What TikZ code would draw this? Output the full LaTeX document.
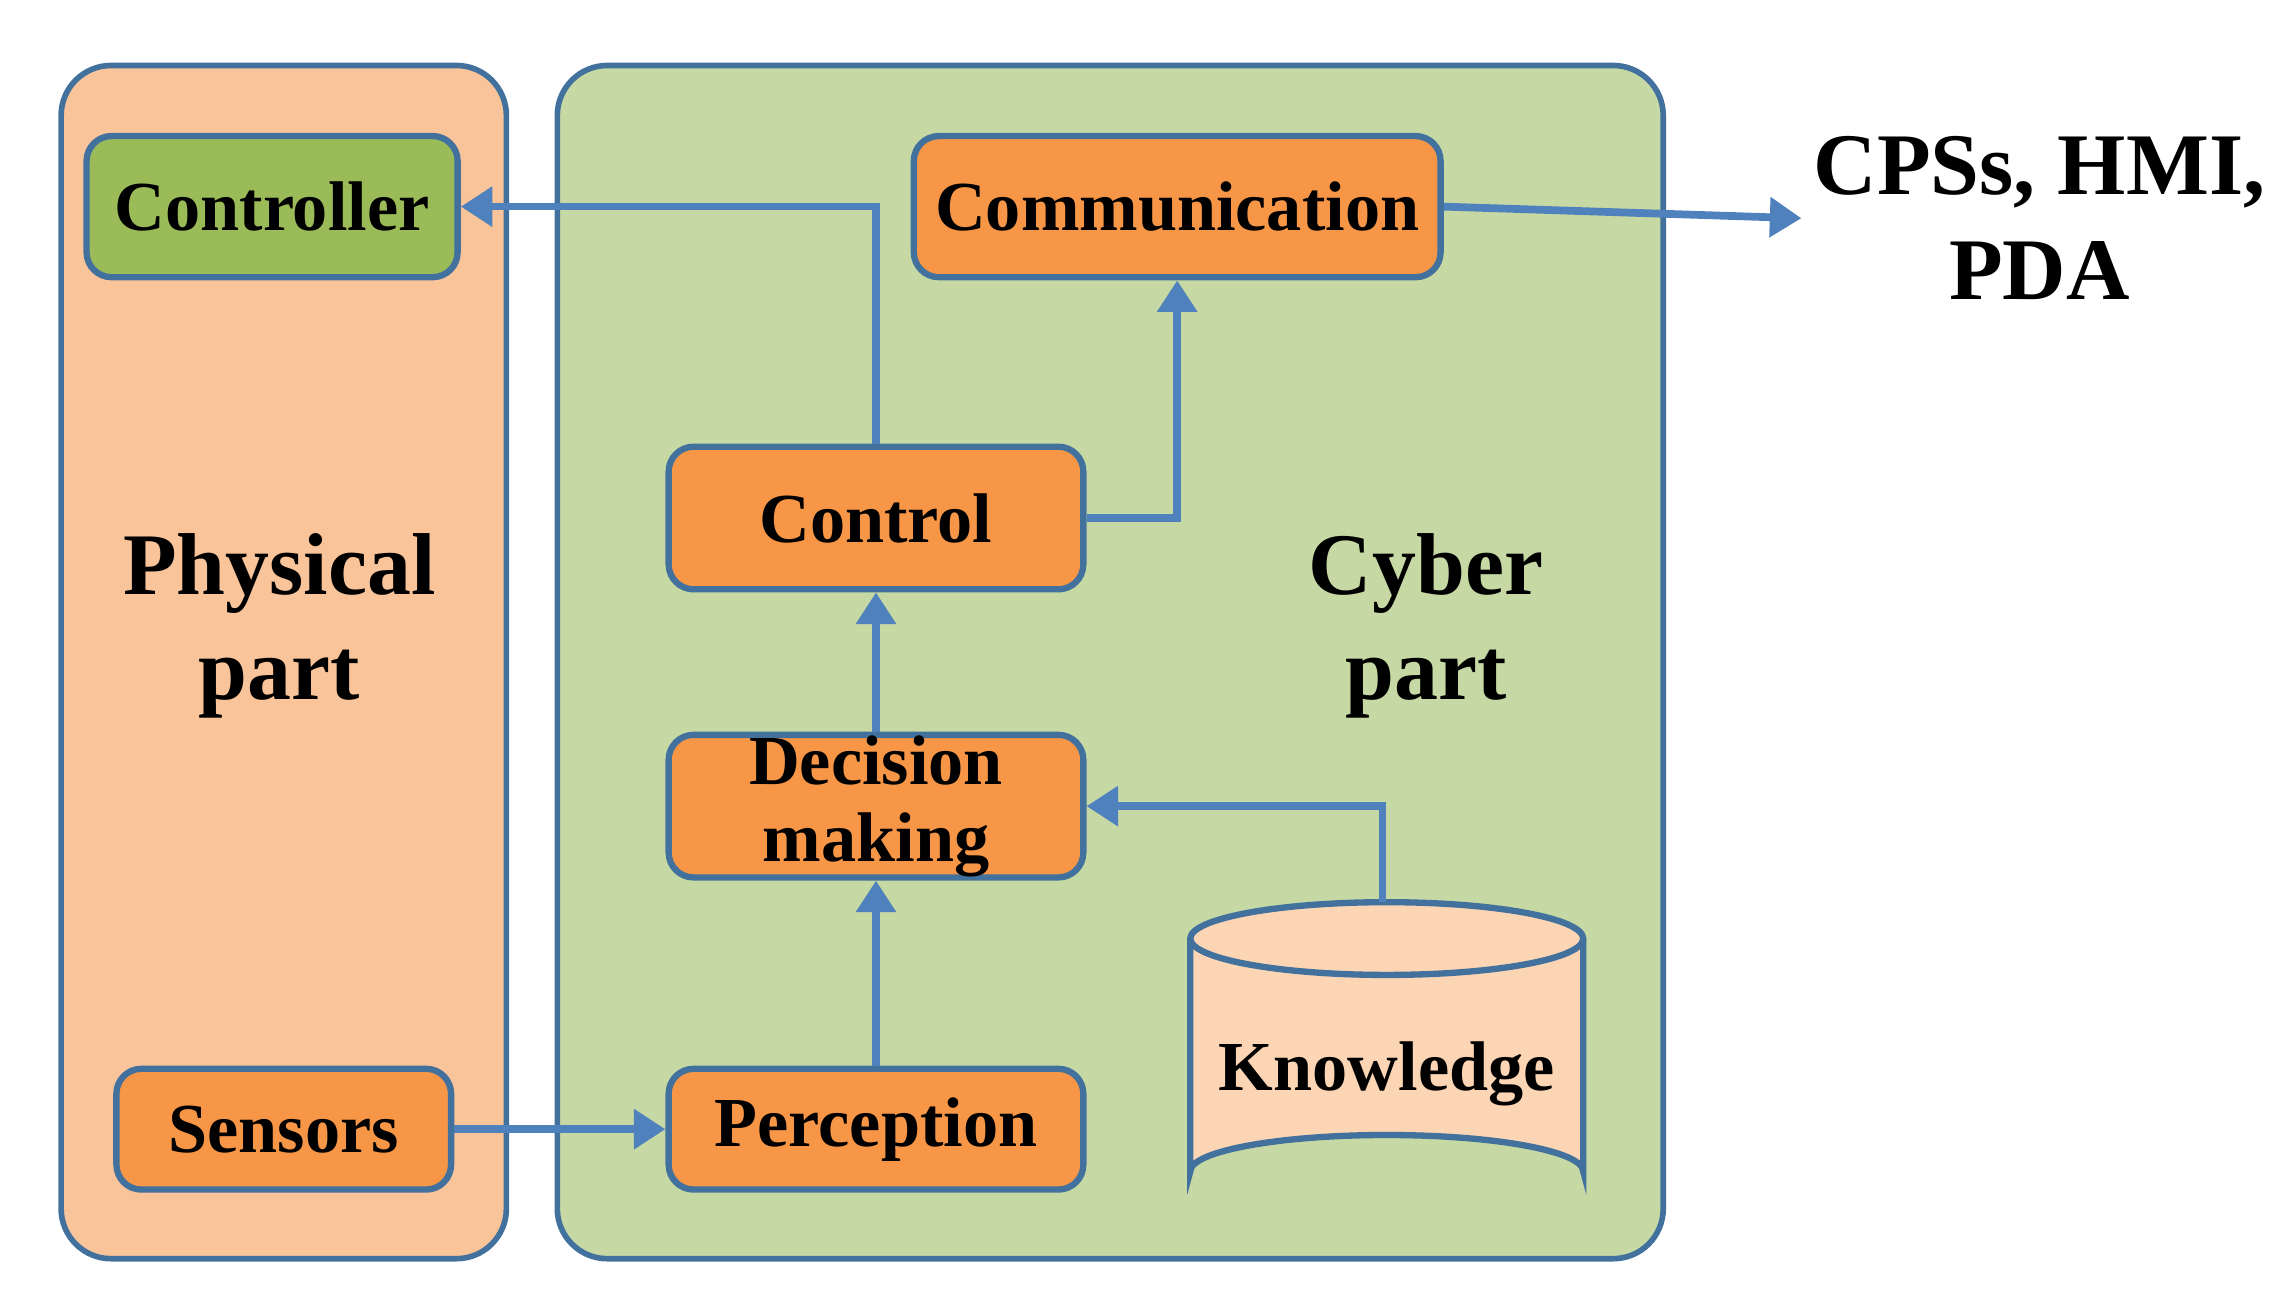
\documentclass[tikz,border=0pt]{standalone}
\usepackage{fontspec}
\setmainfont{Liberation Serif}
\usetikzlibrary{arrows.meta}
\definecolor{bord}{HTML}{41719C}
\definecolor{arr}{HTML}{4F81BD}
\definecolor{peach}{HTML}{F9C49A}
\definecolor{cyb}{HTML}{C6D9A4}
\definecolor{orng}{HTML}{F79646}
\definecolor{grn}{HTML}{9BBB59}
\definecolor{kn}{HTML}{FCD5B5}
\begin{document}
\begin{tikzpicture}[x=0.01455cm,y=-0.01455cm,
 panel/.style={draw=bord,line width=1.6pt,rounded corners=0.5cm},
 box/.style={draw=bord,line width=1.8pt,rounded corners=0.25cm,fill=orng,font=\fontsize{20}{22}\selectfont\bfseries,align=center,inner sep=0pt},
 big/.style={font=\fontsize{25}{30}\selectfont\bfseries,align=center},
 ar/.style={draw=arr,line width=2.2pt,-{Triangle[length=9pt,width=11pt]}}]
\useasboundingbox (0,0) rectangle (1560,886);
\draw[panel,fill=peach] (42,45) rectangle (348,865);
\draw[panel,fill=cyb] (383,45) rectangle (1143,865);
\node[box,fill=grn,minimum width=255*0.01455cm,minimum height=97*0.01455cm] (ctrl) at (187,142) {Controller};
\node[box,minimum width=362*0.01455cm,minimum height=97*0.01455cm] (comm) at (809,142) {Communication};
\node[box,minimum width=285*0.01455cm,minimum height=98*0.01455cm] (control) at (602,356) {Control};
\node[box,minimum width=285*0.01455cm,minimum height=98*0.01455cm] (dec) at (602,554) {Decision\\making};
\node[box,minimum width=285*0.01455cm,minimum height=83*0.01455cm] (perc) at (602,776) {Perception};
\node[box,minimum width=230*0.01455cm,minimum height=83*0.01455cm] (sens) at (195,776) {Sensors};
\node[big] (phys) at (192,430) {Physical\\part};
\node[big] (cyber) at (980,430) {Cyber\\part};
\node[big,anchor=west] (cps) at (1238,150) {CPSs, HMI,\\PDA};
% cylinder
\draw[draw=bord,line width=1.8pt,fill=kn] (818,645) -- (818,805) arc[start angle=180,end angle=360,x radius=135,y radius=25] -- (1088,645);
\draw[draw=bord,line width=1.8pt,fill=kn] (953,645) ellipse[x radius=135,y radius=25];
\node[font=\fontsize{20}{22}\selectfont\bfseries] (know) at (953,738) {Knowledge};
\coordinate (ktop) at (950,620);
% arrows
\draw[ar] (control.north) |- (ctrl.east);
\draw[ar] (control.east) -| (comm.south);
\draw[ar] (comm.east) -- (cps.west);
\draw[ar] (dec.north) -- (control.south);
\draw[ar] (perc.north) -- (dec.south);
\draw[ar] (sens.east) -- (perc.west);
\draw[ar] (ktop) |- (dec.east);
\end{tikzpicture}
\end{document}
